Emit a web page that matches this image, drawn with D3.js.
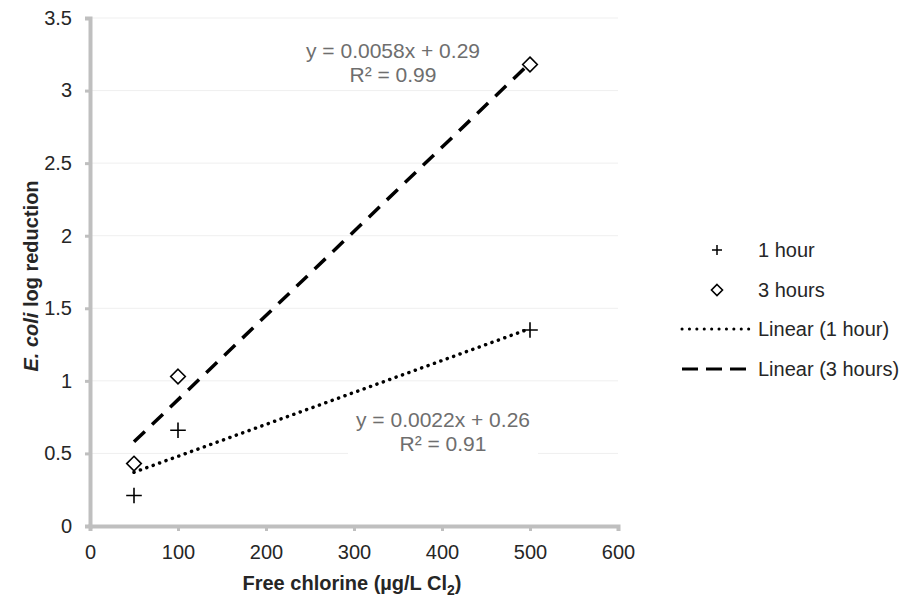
<!DOCTYPE html>
<html>
<head>
<meta charset="utf-8">
<script src="https://cdn.jsdelivr.net/npm/d3@7"></script>
<style>
  body { margin: 0; background: #fff; }
  text { font-family: "Liberation Sans", Arial, sans-serif; }
</style>
</head>
<body>
<div class="chart"></div>
<script>
// data
var chlorine = [50, 100, 500];
var oneHour = [0.21, 0.66, 1.35];
var threeHours = [0.43, 1.03, 3.18];
// trendline end points (x = 50 and x = 500)
var trendX = [50, 500];
var trendOneHour = [0.37, 1.36];
var trendThreeHours = [0.58, 3.19];
var xTicks = [0, 100, 200, 300, 400, 500, 600];
var yTicks = [0, 0.5, 1, 1.5, 2, 2.5, 3, 3.5];

var svgWidth = 911;
var svgHeight = 600;
var margin = { top: 18, left: 90, right: 293, bottom: 74 };
var width = svgWidth - margin.left - margin.right;
var height = svgHeight - margin.top - margin.bottom;

var svg = d3.select(".chart")
  .append("svg")
  .attr("width", svgWidth)
  .attr("height", svgHeight);

var chart = svg.append("g")
  .attr("transform", "translate(" + margin.left + "," + margin.top + ")");

var xScale = d3.scaleLinear().domain([0, 600]).range([0, width]);
var yScale = d3.scaleLinear().domain([0, 3.5]).range([height, 0]);

// gridlines
chart.append("g")
  .selectAll("line")
  .data(yTicks.slice(1))
  .enter()
  .append("line")
  .attr("x1", 0)
  .attr("x2", width)
  .attr("y1", function(d) { return yScale(d); })
  .attr("y2", function(d) { return yScale(d); })
  .attr("stroke", "#efefef")
  .attr("stroke-width", 1);

// axes
var bottomAxis = d3.axisBottom(xScale).tickValues(xTicks).tickSize(5).tickPadding(14);
var leftAxis = d3.axisLeft(yScale).tickValues(yTicks).tickSize(5).tickPadding(13)
  .tickFormat(function(d) { return d; });

var xAxis = chart.append("g")
  .attr("transform", "translate(0," + height + ")")
  .call(bottomAxis);
var yAxis = chart.append("g").call(leftAxis);

[xAxis, yAxis].forEach(function(ax) {
  ax.attr("font-size", 20).attr("font-family", "Liberation Sans, Arial, sans-serif");
  ax.select(".domain").attr("stroke", "#bfbfbf").attr("stroke-width", 4);
  ax.selectAll(".tick line").attr("stroke", "#bfbfbf").attr("stroke-width", 3);
  ax.selectAll(".tick text").attr("fill", "#262626");
});

// trendlines
var line = d3.line()
  .x(function(d) { return xScale(d[0]); })
  .y(function(d) { return yScale(d[1]); });

chart.append("path")
  .datum(d3.zip(trendX, trendOneHour))
  .attr("d", line)
  .attr("fill", "none")
  .attr("stroke", "#000")
  .attr("stroke-width", 3.5)
  .attr("stroke-linecap", "round")
  .attr("stroke-dasharray", "0.1,6.7");

chart.append("path")
  .datum(d3.zip(trendX, trendThreeHours))
  .attr("d", line)
  .attr("fill", "none")
  .attr("stroke", "#000")
  .attr("stroke-width", 3.5)
  .attr("stroke-dasharray", "15,10");

// markers
function plusPath(s) {
  return "M" + (-s) + ",0H" + s + "M0," + (-s) + "V" + s;
}
function diamondPath(s) {
  return "M0," + (-s) + "L" + s + ",0L0," + s + "L" + (-s) + ",0Z";
}

chart.append("g")
  .selectAll("path")
  .data(d3.zip(chlorine, oneHour))
  .enter()
  .append("path")
  .attr("transform", function(d) { return "translate(" + xScale(d[0]) + "," + yScale(d[1]) + ")"; })
  .attr("d", plusPath(7.8))
  .attr("stroke", "#000")
  .attr("stroke-width", 1.6)
  .attr("fill", "none");

chart.append("g")
  .selectAll("path")
  .data(d3.zip(chlorine, threeHours))
  .enter()
  .append("path")
  .attr("transform", function(d) { return "translate(" + xScale(d[0]) + "," + yScale(d[1]) + ")"; })
  .attr("d", diamondPath(7.3))
  .attr("stroke", "#000")
  .attr("stroke-width", 1.6)
  .attr("fill", "#fff");

// equation labels
function eqLabel(cx, cy, lines) {
  var g = svg.append("g");
  g.append("rect")
    .attr("x", cx - 95).attr("y", cy - 20)
    .attr("width", 190).attr("height", 52)
    .attr("fill", "#fff");
  lines.forEach(function(t, i) {
    g.append("text")
      .attr("x", cx)
      .attr("y", cy + i * 24)
      .attr("text-anchor", "middle")
      .attr("fill", "#6e6e6e")
      .style("font-size", "21px")
      .text(t);
  });
}
eqLabel(393, 58, ["y = 0.0058x + 0.29", "R\u00b2 = 0.99"]);
eqLabel(443, 427, ["y = 0.0022x + 0.26", "R\u00b2 = 0.91"]);

// axis titles
svg.append("text")
  .attr("x", 352)
  .attr("y", 590)
  .attr("text-anchor", "middle")
  .attr("fill", "#262626")
  .style("font-size", "20px")
  .style("font-weight", "bold")
  .html("Free chlorine (\u00b5g/L Cl<tspan dy='5' font-size='14'>2</tspan><tspan dy='-5'>)</tspan>");

svg.append("text")
  .attr("transform", "translate(38,276) rotate(-90)")
  .attr("text-anchor", "middle")
  .attr("fill", "#262626")
  .style("font-size", "20px")
  .style("font-weight", "bold")
  .html("<tspan font-style='italic'>E. coli</tspan> log reduction");

// legend
var legend = svg.append("g").attr("transform", "translate(680,0)");
var legendRows = [
  { label: "1 hour", y: 250, kind: "plus" },
  { label: "3 hours", y: 290, kind: "diamond" },
  { label: "Linear (1 hour)", y: 329, kind: "dot" },
  { label: "Linear (3 hours)", y: 369, kind: "dash" }
];
legendRows.forEach(function(r) {
  if (r.kind === "plus") {
    legend.append("path").attr("transform", "translate(37," + r.y + ")")
      .attr("d", plusPath(5)).attr("stroke", "#000").attr("stroke-width", 1.5);
  } else if (r.kind === "diamond") {
    legend.append("path").attr("transform", "translate(37," + r.y + ")")
      .attr("d", diamondPath(5.5)).attr("stroke", "#000").attr("stroke-width", 1.6).attr("fill", "#fff");
  } else {
    legend.append("line")
      .attr("x1", 2).attr("x2", 72)
      .attr("y1", r.y).attr("y2", r.y)
      .attr("stroke", "#000")
      .attr("stroke-width", 3)
      .attr("stroke-linecap", r.kind === "dot" ? "round" : "butt")
      .attr("stroke-dasharray", r.kind === "dot" ? "0.1,7.3" : "16,8");
  }
  legend.append("text")
    .attr("x", 78)
    .attr("y", r.y + 7)
    .attr("fill", "#262626")
    .style("font-size", "20px")
    .text(r.label);
});
</script>
</body>
</html>
